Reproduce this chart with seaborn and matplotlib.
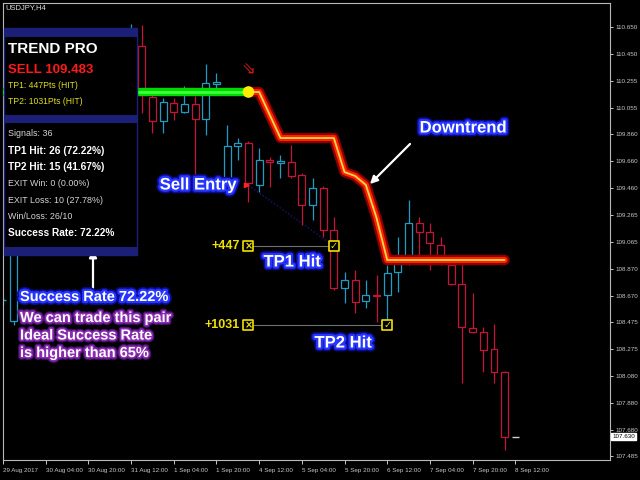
import numpy as np
import pandas as pd
import matplotlib
matplotlib.use("Agg")
import matplotlib.pyplot as plt
import seaborn as sns
from matplotlib import patheffects as pe
from matplotlib.patches import Rectangle
from matplotlib import font_manager as fm

# ---------------- data ----------------
bar_index = list(range(49))
opens = [108.64, 108.483, 109.08, 109.28, 109.45, 109.38, 109.64, 109.85, 109.78, 110.05, 110.24, 110.18, 110.48,
         110.510, 110.134, 109.957, 110.090, 110.024, 110.083, 109.972, 110.230, 109.523, 109.773, 109.795,
         109.486, 109.670, 109.648, 109.655, 109.559, 109.338, 109.464, 109.154, 108.727, 108.786, 108.631,
         108.675, 108.675, 108.845, 108.911, 109.206, 109.139, 109.043, 108.896, 108.756, 108.432, 108.402,
         108.277, 108.108, 107.630]
highs = [108.66, 109.15, 109.35, 109.50, 109.62, 109.70, 109.90, 110.02, 110.10, 110.30, 110.45, 110.55, 110.672,
         110.665, 110.186, 110.127, 110.127, 110.215, 110.141, 110.377, 110.311, 109.928, 109.832, 109.810,
         109.758, 109.692, 109.707, 109.780, 109.574, 109.537, 109.478, 109.250, 108.845, 108.859, 108.786,
         108.822, 108.896, 109.102, 109.375, 109.250, 109.206, 109.102, 108.948, 108.918, 108.690, 108.439,
         108.461, 108.115, 107.632]
lows = [108.60, 108.454, 108.98, 109.20, 109.30, 109.33, 109.58, 109.70, 109.74, 109.98, 110.12, 110.15, 110.40,
        110.016, 109.869, 109.869, 109.965, 110.016, 109.559, 109.854, 110.200, 109.510, 109.670, 109.360,
        109.434, 109.471, 109.537, 109.537, 109.191, 109.228, 109.102, 108.712, 108.616, 108.542, 108.579,
        108.476, 108.439, 108.697, 108.896, 108.918, 108.859, 108.896, 108.750, 108.027, 108.395, 108.108,
        108.027, 107.533, 107.628]
closes = [108.64, 109.08, 109.28, 109.45, 109.38, 109.64, 109.85, 109.78, 110.05, 110.24, 110.18, 110.48, 110.52,
          110.149, 109.957, 110.097, 110.024, 110.083, 109.972, 110.237, 110.245, 109.773, 109.795, 109.500,
          109.670, 109.655, 109.663, 109.552, 109.338, 109.464, 109.154, 108.727, 108.786, 108.623, 108.675,
          108.668, 108.837, 108.911, 109.206, 109.139, 109.058, 108.955, 108.756, 108.439, 108.402, 108.270,
          108.108, 107.630, 107.630]

green_x = list(range(0, 24))
green_y = [110.171] * 24
red_x = list(range(23, 48))
red_y = [110.171, 110.171, 110.001, 109.832, 109.832, 109.832, 109.832, 109.832, 109.832, 109.581, 109.552,
         109.486, 109.243, 108.933, 108.933, 108.933, 108.933, 108.933, 108.933, 108.933, 108.933, 108.933,
         108.933, 108.933, 108.933]

entry_bar, entry_price = 23, 109.483
tp1_bar, tp1_price, tp1_pts = 31, 109.036, 447
tp2_bar, tp2_price, tp2_pts = 36, 108.452, 1031
current_price = 107.630

xtick_bars = list(range(0, 49, 4))
xtick_labels = ["29 Aug 2017", "30 Aug 04:00", "30 Aug 20:00", "31 Aug 12:00", "1 Sep 04:00", "1 Sep 20:00",
                "4 Sep 12:00", "5 Sep 04:00", "5 Sep 20:00", "6 Sep 12:00", "7 Sep 04:00", "7 Sep 20:00",
                "8 Sep 12:00"]
ytick_values = [110.650, 110.450, 110.255, 110.055, 109.860, 109.660, 109.460, 109.265, 109.065, 108.870,
                108.670, 108.475, 108.275, 108.080, 107.880, 107.680, 107.485]

panel_title = "TREND PRO"
panel_signal = "SELL 109.483"
panel_tp_lines = ["TP1: 447Pts (HIT)", "TP2: 1031Pts (HIT)"]
panel_stats = [("Signals: 36", False), ("TP1 Hit: 26 (72.22%)", True), ("TP2 Hit: 15 (41.67%)", True),
               ("EXIT Win: 0 (0.00%)", False), ("EXIT Loss: 10 (27.78%)", False), ("Win/Loss: 26/10", False),
               ("Success Rate: 72.22%", True)]
note_lines = ["We can trade this pair", "Ideal Success Rate", "is higher than 65%"]

# ---------------- style ----------------
sns.set_theme(style="dark", rc={
    "figure.facecolor": "black", "axes.facecolor": "black", "savefig.facecolor": "black",
    "axes.edgecolor": "#b8b8b8", "axes.linewidth": 0.8,
    "xtick.color": "#c8c8c8", "ytick.color": "#c8c8c8", "text.color": "white",
    "xtick.bottom": True, "ytick.right": True,
})
names = {f.name for f in fm.fontManager.ttflist}
NARROW = "Liberation Sans Narrow" if "Liberation Sans Narrow" in names else "Liberation Sans"
plt.rcParams["font.family"] = ["Liberation Sans", "DejaVu Sans"]

W, H = 640, 480
fig = plt.figure(figsize=(6.4, 4.8), dpi=100)
ax = fig.add_axes([3 / W, 20 / H, 607 / W, 457 / H])

PX_PER_BAR = 10.69
PX_PER_PRICE = 135.7


def bx(px):
    return (px - 2) / PX_PER_BAR


def py2p(py):
    return 110.65 - (py - 27) / PX_PER_PRICE


ax.set_xlim(bx(3), bx(610))
ax.set_ylim(py2p(460), py2p(3))

# ---------------- candles ----------------
UP, DN, DOJI = "#1f9cc4", "#c4143a", "#d0d0d0"
bw = 0.64
for i, o, h, l, c in zip(bar_index, opens, highs, lows, closes):
    col = UP if c > o else (DN if c < o else DOJI)
    if i == 0:
        col = UP
    top, bot = max(o, c), min(o, c)
    if abs(c - o) < 0.003:
        ax.hlines(c, i - bw / 2, i + bw / 2, color=col, lw=1.0, zorder=2)
    else:
        ax.bar(i, top - bot, bottom=bot, width=bw, facecolor="black", edgecolor=col, linewidth=0.9, zorder=2)
    if h > top:
        ax.vlines(i, top, h, color=col, lw=0.9, zorder=2)
    if l < bot:
        ax.vlines(i, l, bot, color=col, lw=0.9, zorder=2)

# ---------------- trend lines ----------------
gdf = pd.DataFrame({"bar": green_x, "price": green_y})
rdf = pd.DataFrame({"bar": red_x, "price": red_y})
sns.lineplot(data=gdf, x="bar", y="price", ax=ax, color="#00d800", lw=6.0, zorder=6,
             solid_capstyle="butt")
sns.lineplot(data=gdf, x="bar", y="price", ax=ax, color="#3cff3c", lw=2.0, zorder=6)
sns.lineplot(data=rdf, x="bar", y="price", ax=ax, color="#8a0000", lw=7.5, zorder=6,
             solid_capstyle="round", solid_joinstyle="round")
sns.lineplot(data=rdf, x="bar", y="price", ax=ax, color="#ff2200", lw=4.4, zorder=6,
             solid_capstyle="round", solid_joinstyle="round")
sns.lineplot(data=rdf, x="bar", y="price", ax=ax, color="#ffd94a", lw=1.3, zorder=6,
             solid_capstyle="round", solid_joinstyle="round")
sns.scatterplot(x=[red_x[0]], y=[red_y[0]], ax=ax, color="#ffee00", s=70, edgecolor="none", zorder=7)

# ---------------- trade markers ----------------
ax.plot([entry_bar, tp1_bar], [entry_price, tp1_price], color="#141a70", lw=1.0, ls=(0, (1, 1.5)), zorder=1)
for b, p in [(tp1_bar, tp1_price), (tp2_bar, tp2_price)]:
    ax.hlines(p, entry_bar, b, color="#707070", lw=0.8, zorder=3)
mk = pd.DataFrame({"bar": [entry_bar, entry_bar, tp1_bar, tp2_bar],
                   "price": [tp1_price, tp2_price, tp1_price, tp2_price]})
sns.scatterplot(data=mk, x="bar", y="price", ax=ax, marker="s", s=60, facecolor="black",
                edgecolor="#f0e000", linewidth=1.2, zorder=8)
for b, p, ch in [(entry_bar, tp1_price, "×"), (entry_bar, tp2_price, "×"),
                 (tp1_bar, tp1_price, "✓"), (tp2_bar, tp2_price, "✓")]:
    ax.text(b, p, ch, color="#f0e000", fontsize=7, fontweight="bold", ha="center", va="center",
            family=["DejaVu Sans"], zorder=9)
ax.text(entry_bar - 0.85, tp1_price, f"+{tp1_pts}", color="#f0e000", fontsize=9, fontweight="bold",
        ha="right", va="center", zorder=9)
ax.text(entry_bar - 0.85, tp2_price, f"+{tp2_pts}", color="#f0e000", fontsize=9, fontweight="bold",
        ha="right", va="center", zorder=9)
# sell entry arrow and signal arrow
ax.annotate("", xy=(entry_bar + 0.45, entry_price), xytext=(entry_bar - 0.45, entry_price),
            arrowprops=dict(arrowstyle="-|>", color="#ff2020", lw=1.3, mutation_scale=7), zorder=9)
ax.text(entry_bar, py2p(70), "⇘", color="#d01818", fontsize=12, ha="center", va="center",
        family=["DejaVu Sans"], zorder=9)

# ---------------- glow labels ----------------
blue_glow = [pe.Stroke(linewidth=5.5, foreground="#0a0a90"), pe.Stroke(linewidth=3.2, foreground="#2636ff"),
             pe.Normal()]
purple_glow = [pe.Stroke(linewidth=4, foreground="#4a1070"), pe.Stroke(linewidth=2.2, foreground="#8a2cb0"),
               pe.Normal()]


def ftext(px, py, s, **kw):
    return fig.text(px / W, 1 - py / H, s, **kw)


ftext(198, 185, "Sell Entry", fontsize=12, fontweight="bold", color="white", ha="center", va="center",
      path_effects=blue_glow, zorder=20)
ftext(463, 128, "Downtrend", fontsize=12, fontweight="bold", color="white", ha="center", va="center",
      path_effects=blue_glow, zorder=20)
ftext(292, 262, "TP1 Hit", fontsize=12, fontweight="bold", color="white", ha="center", va="center",
      path_effects=blue_glow, zorder=20)
ftext(343, 343, "TP2 Hit", fontsize=12, fontweight="bold", color="white", ha="center", va="center",
      path_effects=blue_glow, zorder=20)
ax.annotate("", xy=(368, H - 186), xytext=(412, H - 142), xycoords="figure pixels",
            arrowprops=dict(arrowstyle="-|>", color="white", lw=1.6, mutation_scale=11), zorder=20)

# ---------------- info panel ----------------
NAVY = "#1c1f78"
fig.patches.append(Rectangle((4 / W, 1 - 255 / H), 133 / W, 227 / H, transform=fig.transFigure,
                             facecolor="black", edgecolor=NAVY, lw=1.0, zorder=10))
for y0, y1 in [(29, 37), (115, 123), (247, 255)]:
    fig.patches.append(Rectangle((4 / W, 1 - y1 / H), 133 / W, (y1 - y0) / H, transform=fig.transFigure,
                                 facecolor=NAVY, edgecolor="none", zorder=11))
ftext(8, 49, panel_title, fontsize=11, fontweight="bold", color="white", ha="left", va="center", zorder=20)
ftext(8, 70, panel_signal, fontsize=9.5, fontweight="bold", color="#ff1a1a", ha="left", va="center", zorder=20)
for k, s in enumerate(panel_tp_lines):
    ftext(8, 85 + 16 * k, s, fontsize=6.2, color="#dede22", ha="left", va="center", family=[NARROW], zorder=20)
for k, (s, bold) in enumerate(panel_stats):
    ftext(8, 134 + 16.5 * k, s, fontsize=7.3 if bold else 6.4, fontweight="bold" if bold else "normal",
          color="white" if bold else "#d6d6d6", ha="left", va="center",
          family=["Liberation Sans"] if bold else [NARROW], zorder=20)
ax.annotate("", xy=(93, H - 247), xytext=(93, H - 291), xycoords="figure pixels",
            arrowprops=dict(arrowstyle="-|>", color="white", lw=1.6, mutation_scale=11), zorder=20)
ftext(20, 297, "Success Rate 72.22%", fontsize=10.5, fontweight="bold", color="white", ha="left",
      va="center", path_effects=blue_glow, zorder=20)
for k, s in enumerate(note_lines):
    ftext(20, 318 + 17.5 * k, s, fontsize=10.5, fontweight="bold", color="white", ha="left", va="center",
          path_effects=purple_glow, zorder=20)
ftext(5, 8, "USDJPY,H4", fontsize=5.5, color="#e0e0e0", ha="left", va="center", zorder=20)

# ---------------- axes ticks ----------------
ax.set_xticks(xtick_bars)
ax.set_xticklabels(xtick_labels, fontsize=4.5, color="#c8c8c8")
for lab in ax.get_xticklabels():
    lab.set_horizontalalignment("left")
ax.tick_params(axis="x", length=3, width=0.7, pad=2.5, colors="#c8c8c8")
ax.yaxis.tick_right()
ax.set_yticks(ytick_values)
ax.set_yticklabels([f"{v:.3f}" for v in ytick_values], fontsize=4.5)
ax.tick_params(axis="y", length=2.5, width=0.7, pad=1.2, colors="#c8c8c8")
ax.set_xlabel("")
ax.set_ylabel("")
ax.grid(False)
for sp in ax.spines.values():
    sp.set_color("#b8b8b8")
    sp.set_linewidth(0.8)
ax.text(1.004, current_price, f"{current_price:.3f}", transform=ax.get_yaxis_transform(), fontsize=4.5,
        color="black", ha="left", va="center", zorder=30, clip_on=False,
        bbox=dict(boxstyle="square,pad=0.15", facecolor="white", edgecolor="white"))

fig.savefig("out.png", dpi=100, facecolor="black")
